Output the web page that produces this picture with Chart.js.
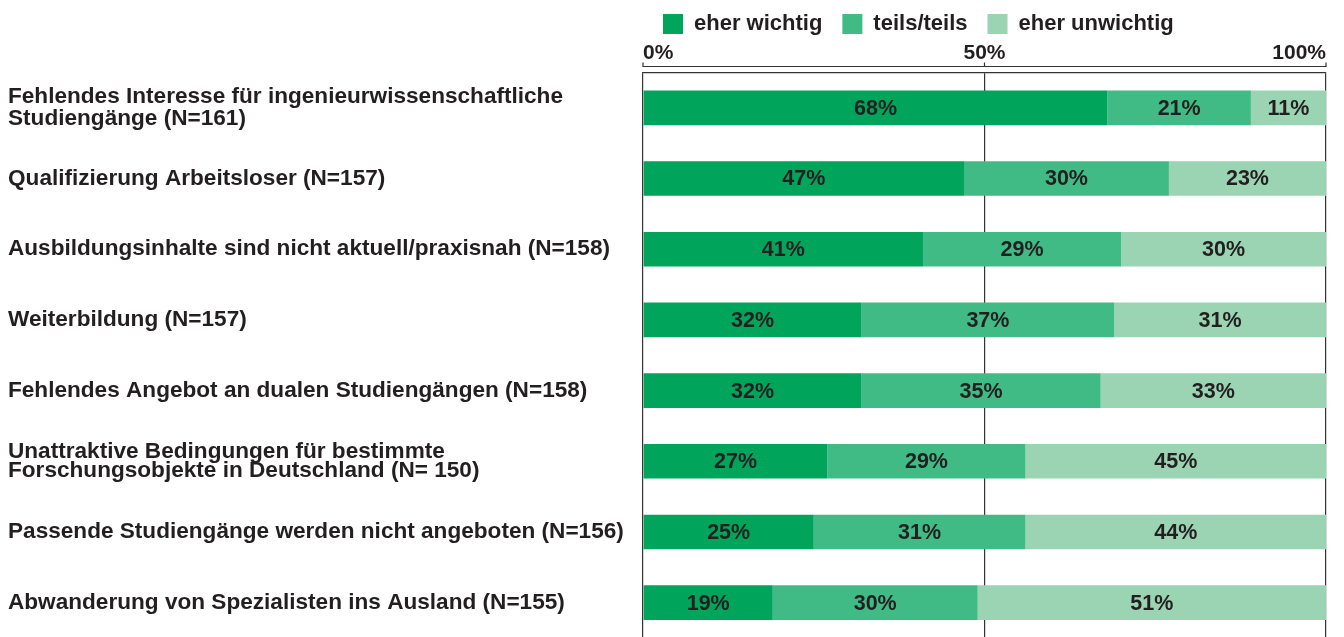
<!DOCTYPE html>
<html>
<head>
<meta charset="utf-8">
<script src="https://cdn.jsdelivr.net/npm/chart.js@4"></script>
<style>
  html, body { margin: 0; padding: 0; background: #fff; overflow: hidden; }
  #wrap { width: 1344px; height: 660px; }
</style>
</head>
<body>
<div id="wrap"><canvas id="chart" width="1344" height="660"></canvas></div>
<script>
// Gründe (Kategorien)
const categories = [
  ['Fehlendes Interesse für ingenieurwissenschaftliche', 'Studiengänge (N=161)'],
  'Qualifizierung Arbeitsloser (N=157)',
  'Ausbildungsinhalte sind nicht aktuell/praxisnah (N=158)',
  'Weiterbildung (N=157)',
  'Fehlendes Angebot an dualen Studiengängen (N=158)',
  ['Unattraktive Bedingungen für bestimmte', 'Forschungsobjekte in Deutschland (N= 150)'],
  'Passende Studiengänge werden nicht angeboten (N=156)',
  'Abwanderung von Spezialisten ins Ausland (N=155)'
];

// Anteile in Prozent
const eherWichtig = [68, 47, 41, 32, 32, 27, 25, 19];
const teilsTeils = [21, 30, 29, 37, 35, 29, 31, 30];
const eherUnwichtig = [11, 23, 30, 31, 33, 45, 44, 51];

const xTicks = [0, 50, 100];

const FONT = "'Liberation Sans', Arial, sans-serif";
const TEXT = '#231f20';
const PLOT_TOP = 72.5; // Oberkante des Rahmens
const PAD_TOP = -7;

// Prozentwerte mittig in die Segmente schreiben
const segmentLabels = {
  id: 'segmentLabels',
  afterDatasetsDraw(chart) {
    const ctx = chart.ctx;
    ctx.save();
    ctx.font = 'bold 21.5px ' + FONT;
    ctx.fillStyle = TEXT;
    ctx.textAlign = 'center';
    ctx.textBaseline = 'middle';
    chart.data.datasets.forEach((ds, i) => {
      chart.getDatasetMeta(i).data.forEach((bar, j) => {
        const p = bar.getProps(['x', 'y', 'base'], true);
        const right = Math.min(p.x, chart.chartArea.right);
        ctx.fillText(ds.data[j] + '%', (p.base + right) / 2, p.y + 1);
      });
    });
    ctx.restore();
  }
};

// Lineal über dem Rahmen
const ruler = {
  id: 'ruler',
  afterDraw(chart) {
    const ctx = chart.ctx;
    const x = chart.scales.x;
    const top = chart.chartArea.top;
    ctx.save();
    ctx.strokeStyle = '#333';
    ctx.lineWidth = 1.2;
    ctx.beginPath();
    ctx.moveTo(x.getPixelForValue(0), top - 6);
    ctx.lineTo(x.getPixelForValue(100), top - 6);
    xTicks.forEach(v => {
      const px = x.getPixelForValue(v);
      ctx.moveTo(px, top - 10);
      ctx.lineTo(px, top - 5.5);
    });
    ctx.stroke();
    ctx.restore();
  }
};

new Chart(document.getElementById('chart'), {
  type: 'bar',
  data: {
    labels: categories,
    datasets: [
      { label: 'eher wichtig', data: eherWichtig, backgroundColor: '#00a55b' },
      { label: 'teils/teils', data: teilsTeils, backgroundColor: '#40bb86' },
      { label: 'eher unwichtig', data: eherUnwichtig, backgroundColor: '#9bd4b3' }
    ]
  },
  options: {
    indexAxis: 'y',
    responsive: false,
    animation: false,
    layout: { padding: { left: 8, right: 18, top: PAD_TOP, bottom: 12.5 } },
    datasets: {
      bar: { barPercentage: 0.49, categoryPercentage: 1, borderWidth: 0 }
    },
    scales: {
      x: {
        position: 'top',
        stacked: true,
        min: 0,
        max: 100,
        afterBuildTicks(scale) {
          scale.ticks = xTicks.map(v => ({ value: v }));
        },
        afterFit(scale) {
          const lg = scale.chart.legend;
          const lgH = lg && lg.height ? lg.height : 45;
          scale.height = PLOT_TOP - PAD_TOP - lgH;
        },
        ticks: {
          align: 'inner',
          padding: 7,
          color: TEXT,
          font: { family: FONT, size: 21, weight: 'bold' },
          callback: v => v + '%'
        },
        grid: { color: '#333', lineWidth: 1.2, drawTicks: false },
        border: { display: true, color: '#333', width: 1.2 }
      },
      y: {
        stacked: true,
        afterFit(scale) { scale.width = 635; },
        ticks: {
          crossAlign: 'far',
          color: TEXT,
          padding: 0,
          font: ctx => ({
            family: FONT,
            size: 22.6,
            weight: 'bold',
            lineHeight: ctx.index === 5 ? '19.5px' : '22px'
          })
        },
        grid: { display: false },
        border: { display: false }
      }
    },
    plugins: {
      legend: {
        position: 'top',
        align: 'start',
        fullSize: false,
        labels: {
          boxWidth: 20,
          boxHeight: 20,
          padding: 20,
          color: TEXT,
          font: { family: FONT, size: 22, weight: 'bold' }
        }
      },
      tooltip: { enabled: false }
    }
  },
  plugins: [segmentLabels, ruler]
});
</script>
</body>
</html>
